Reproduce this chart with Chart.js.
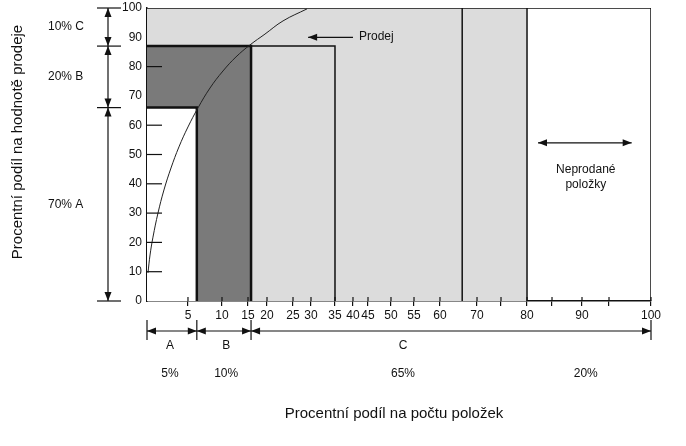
<!DOCTYPE html>
<html>
<head>
<meta charset="utf-8">
<script src="https://cdn.jsdelivr.net/npm/chart.js@4"></script>
<style>
  body { margin: 0; background: #fff; }
</style>
</head>
<body>
<canvas id="abc" width="686" height="446"></canvas>
<script>
// ABC analysis, values
const classEdgesX = [0, 6.3, 15.8, 80, 100];   // A | B | C | unsold items (% of items)
const classEdgesY = [0, 66, 87, 100];          // A | B | C (% of sales value)
const boxRightX = 35;
const midLineX = 66;
const salesCurveX = [0.12, 0.37, 0.73, 1.34, 2.07, 2.93, 3.9, 5.0, 6.47, 8.24, 10.19, 12.69, 15.53, 19.47, 23.08, 28.89];
const salesCurveY = [9.6, 15.7, 21.8, 30.0, 37.9, 45.4, 52.6, 59.4, 65.9, 72.7, 78.5, 83.3, 87.4, 91.1, 95.6, 99.7];
const valueLabels = ['70% A', '20% B', '10% C'];
const classLabels = ['A', 'B', 'C'];
const itemShareLabels = ['5%', '10%', '65%', '20%'];
const itemShareLabelAt = [2.8, 10.8, 52.6, 90.7];
const xTickValues = [5, 10, 15, 20, 25, 30, 35, 40, 45, 50, 55, 60, 70, 75, 80, 85, 90, 95, 100];
const xLabelled = [5, 10, 15, 20, 25, 30, 35, 40, 45, 50, 55, 60, 70, 80, 90, 100];
const yInnerTicks = [10, 20, 30, 40, 50, 60, 80];

// the x axis of the original drawing is not evenly spaced
const knotValues = [0, 5, 10, 15, 20, 25, 30, 35, 40, 45, 50, 55, 60, 70, 75, 80, 85, 90, 95, 100];
const knotFracs = [0, 0.0813, 0.1488, 0.2004, 0.2381, 0.2897, 0.3254, 0.3730, 0.4087, 0.4385,
    0.4841, 0.5298, 0.5813, 0.6548, 0.7024, 0.7540, 0.8036, 0.8631, 0.9167, 1];

function interp(v, from, to) {
    let n = from.length;
    if (v <= from[0]) return to[0];
    for (let i = 1; i < n; i++) {
        if (v <= from[i]) {
            return to[i - 1] + (v - from[i - 1]) / (from[i] - from[i - 1]) * (to[i] - to[i - 1]);
        }
    }
    return to[n - 1];
}

class WarpScale extends Chart.LinearScale {
    getPixelForValue(value) {
        if (value === null || isNaN(value)) return NaN;
        return this.getPixelForDecimal(interp(value, knotValues, knotFracs));
    }
    getValueForPixel(pixel) {
        return interp(this.getDecimalForPixel(pixel), knotFracs, knotValues);
    }
}
WarpScale.id = 'warp';
WarpScale.defaults = Chart.LinearScale.defaults;
Chart.register(WarpScale);

const FONT = '"Liberation Sans", Arial, sans-serif';
const INK = '#111';

function pts(xs, ys) {
    return xs.map((x, i) => ({x: x, y: ys[i]}));
}

function shape(xs, ys, opts) {
    return Object.assign({
        data: pts(xs, ys),
        pointRadius: 0,
        borderColor: INK,
        borderWidth: 1.5,
        fill: false,
        tension: 0
    }, opts);
}

function arrowHead(ctx, x, y, dx, dy) {
    const len = 9, half = 3.5;
    const bx = x - dx * len, by = y - dy * len;
    ctx.beginPath();
    ctx.moveTo(x, y);
    ctx.lineTo(bx - dy * half, by + dx * half);
    ctx.lineTo(bx + dy * half, by - dx * half);
    ctx.closePath();
    ctx.fill();
}

const notes = {
    id: 'notes',
    afterDraw(chart) {
        const ctx = chart.ctx;
        const a = chart.chartArea;
        const x = chart.scales.x, y = chart.scales.y;
        ctx.save();
        ctx.strokeStyle = INK;
        ctx.fillStyle = INK;
        ctx.lineWidth = 1.2;

        // y ticks drawn inside the plot
        yInnerTicks.forEach(v => {
            ctx.beginPath();
            ctx.moveTo(a.left, y.getPixelForValue(v));
            ctx.lineTo(a.left + 15, y.getPixelForValue(v));
            ctx.stroke();
        });
        // x ticks poke a little into the plot
        xTickValues.forEach(v => {
            ctx.beginPath();
            ctx.moveTo(x.getPixelForValue(v), a.bottom);
            ctx.lineTo(x.getPixelForValue(v), a.bottom - 4);
            ctx.stroke();
        });

        // left dimension line (sales value classes)
        const lx = a.left - 39;
        ctx.beginPath();
        ctx.moveTo(lx, y.getPixelForValue(100));
        ctx.lineTo(lx, y.getPixelForValue(0));
        ctx.stroke();
        classEdgesY.forEach(v => {
            ctx.beginPath();
            ctx.moveTo(a.left - 50, y.getPixelForValue(v));
            ctx.lineTo(a.left - 26, y.getPixelForValue(v));
            ctx.stroke();
        });
        ctx.font = '12px ' + FONT;
        ctx.textBaseline = 'middle';
        ctx.textAlign = 'left';
        for (let i = 0; i < classEdgesY.length - 1; i++) {
            const lo = y.getPixelForValue(classEdgesY[i]);
            const hi = y.getPixelForValue(classEdgesY[i + 1]);
            arrowHead(ctx, lx, hi, 0, -1);
            arrowHead(ctx, lx, lo, 0, 1);
            ctx.fillText(valueLabels[i], 48, (lo + hi) / 2);
        }

        // bottom dimension line (item classes)
        const by = a.bottom + 30;
        const bEdges = [classEdgesX[0], classEdgesX[1], classEdgesX[2], classEdgesX[4]];
        ctx.beginPath();
        ctx.moveTo(x.getPixelForValue(0), by);
        ctx.lineTo(x.getPixelForValue(100), by);
        ctx.stroke();
        bEdges.forEach(v => {
            ctx.beginPath();
            ctx.moveTo(x.getPixelForValue(v), by - 11);
            ctx.lineTo(x.getPixelForValue(v), by + 9);
            ctx.stroke();
        });
        for (let i = 0; i < bEdges.length - 1; i++) {
            arrowHead(ctx, x.getPixelForValue(bEdges[i]), by, -1, 0);
            arrowHead(ctx, x.getPixelForValue(bEdges[i + 1]), by, 1, 0);
        }
        ctx.textAlign = 'center';
        classLabels.forEach((t, i) => {
            ctx.fillText(t, x.getPixelForValue(itemShareLabelAt[i]), by + 15);
        });
        itemShareLabels.forEach((t, i) => {
            ctx.fillText(t, x.getPixelForValue(itemShareLabelAt[i]), by + 43);
        });

        // "Prodej" pointer
        const py = y.getPixelForValue(90);
        ctx.beginPath();
        ctx.moveTo(x.getPixelForValue(40), py);
        ctx.lineTo(x.getPixelForValue(29.2), py);
        ctx.stroke();
        arrowHead(ctx, x.getPixelForValue(29.2), py, -1, 0);
        ctx.textAlign = 'left';
        ctx.fillText('Prodej', x.getPixelForValue(42), py - 1);

        // unsold items
        const uy = y.getPixelForValue(54);
        ctx.beginPath();
        ctx.moveTo(x.getPixelForValue(82.2), uy);
        ctx.lineTo(x.getPixelForValue(97.7), uy);
        ctx.stroke();
        arrowHead(ctx, x.getPixelForValue(82.2), uy, -1, 0);
        arrowHead(ctx, x.getPixelForValue(97.7), uy, 1, 0);
        ctx.textAlign = 'center';
        ctx.fillText('Neprodané', x.getPixelForValue(90.7), y.getPixelForValue(44.7));
        ctx.fillText('položky', x.getPixelForValue(90.7), y.getPixelForValue(39.6));

        // axis titles
        ctx.font = '15px ' + FONT;
        ctx.fillText('Procentní podíl na počtu položek', 394, a.bottom + 113);
        ctx.translate(18, 142);
        ctx.rotate(-Math.PI / 2);
        ctx.fillText('Procentní podíl na hodnotě prodeje', 0, 0);
        ctx.restore();
    }
};

new Chart(document.getElementById('abc').getContext('2d'), {
    type: 'line',
    data: {
        datasets: [
            shape(salesCurveX, salesCurveY, {borderWidth: 1, borderColor: '#222', tension: 0.4, order: 1}),
            shape([0, 100, 100], [100, 100, 0], {order: 2}),
            shape([classEdgesX[3], classEdgesX[3]], [0, 100], {order: 3}),
            shape([midLineX, midLineX], [0, 100], {order: 4}),
            shape([classEdgesX[2], boxRightX, boxRightX], [classEdgesY[2], classEdgesY[2], 0], {order: 5}),
            shape([0, classEdgesX[1], classEdgesX[1]], [classEdgesY[1], classEdgesY[1], 0],
                {fill: 'origin', backgroundColor: '#ffffff', borderWidth: 2.5, order: 6}),
            shape([0, classEdgesX[2], classEdgesX[2]], [classEdgesY[2], classEdgesY[2], 0],
                {fill: 'origin', backgroundColor: '#7a7a7a', borderWidth: 2.5, order: 7}),
            shape([0, classEdgesX[3]], [100, 100],
                {fill: 'origin', backgroundColor: '#dcdcdc', borderWidth: 0, order: 8})
        ]
    },
    options: {
        responsive: false,
        animation: false,
        devicePixelRatio: 1,
        layout: {padding: {top: 8, right: 35, left: 0, bottom: 0}},
        plugins: {legend: {display: false}, tooltip: {enabled: false}},
        scales: {
            x: {
                type: 'warp',
                min: 0,
                max: 100,
                afterBuildTicks: s => { s.ticks = xTickValues.map(v => ({value: v})); },
                afterFit: s => { s.height = 145; s.paddingLeft = 0; s.paddingRight = 0; },
                grid: {drawOnChartArea: false, tickLength: 5, color: INK, lineWidth: 1.2},
                border: {color: INK, width: 1.5},
                ticks: {
                    autoSkip: false,
                    maxRotation: 0,
                    padding: 2,
                    color: INK,
                    font: {family: FONT, size: 12},
                    callback: v => xLabelled.includes(v) ? String(v) : ''
                }
            },
            y: {
                type: 'linear',
                min: 0,
                max: 100,
                afterFit: s => { s.width = 147; s.paddingTop = 0; s.paddingBottom = 0; },
                grid: {display: false, drawTicks: false},
                border: {color: INK, width: 1.5},
                ticks: {stepSize: 10, padding: 5, color: INK, font: {family: FONT, size: 12}}
            }
        }
    },
    plugins: [notes]
});
</script>
</body>
</html>
